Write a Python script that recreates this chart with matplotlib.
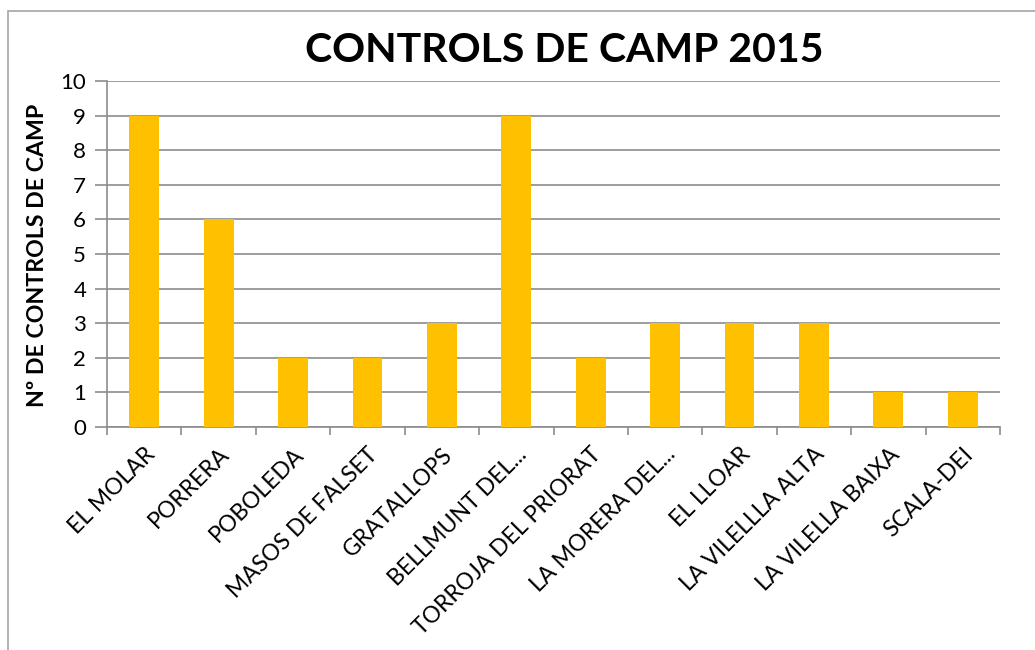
import matplotlib
matplotlib.use('Agg')
import matplotlib.pyplot as plt
from matplotlib.patches import Rectangle
from matplotlib.ticker import FixedLocator, NullFormatter

# data
pobles = ['EL MOLAR', 'PORRERA', 'POBOLEDA', 'MASOS DE FALSET', 'GRATALLOPS',
          'BELLMUNT DEL...', 'TORROJA DEL PRIORAT', 'LA MORERA DEL...', 'EL LLOAR',
          'LA VILELLLA ALTA', 'LA VILELLA BAIXA', 'SCALA-DEI']
controls = [9, 6, 2, 2, 3, 9, 2, 3, 3, 3, 1, 1]
y_ticks = list(range(0, 11))

plt.rcParams['font.family'] = ['Lato', 'DejaVu Sans']
grey = '#8c8c8c'

fig = plt.figure(figsize=(10.35, 6.5), dpi=100)
ax = fig.add_axes([107 / 1035, 1 - 427 / 650, 893 / 1035, 346 / 650])

x = list(range(len(pobles)))
ax.bar(x, controls, width=0.4, color='#FFC000', zorder=3)

ax.set_xlim(-0.5, len(pobles) - 0.5)
ax.set_ylim(0, 10)
ax.set_yticks(y_ticks)
ax.yaxis.grid(True, color=grey, linewidth=1.2, zorder=0)
ax.tick_params(axis='y', length=9, color=grey, width=1.2, labelsize=16, pad=6)

ax.set_xticks(x)
ax.set_xticklabels(pobles, rotation=45, ha='right', rotation_mode='anchor', fontsize=16.5)
ax.tick_params(axis='x', which='major', length=0, pad=12)
ax.xaxis.set_minor_locator(FixedLocator([i - 0.5 for i in range(len(pobles) + 1)]))
ax.xaxis.set_minor_formatter(NullFormatter())
ax.tick_params(axis='x', which='minor', length=6, color=grey, width=1.2)

for s in ['top', 'right']:
    ax.spines[s].set_visible(False)
for s in ['left', 'bottom']:
    ax.spines[s].set_color(grey)
    ax.spines[s].set_linewidth(1.2)

fig.text(564 / 1035, 1 - 50 / 650, 'CONTROLS DE CAMP 2015', fontsize=29.5,
         fontweight='bold', ha='center', va='center')
fig.text(38 / 1035, 1 - 255 / 650, 'Nº DE CONTROLS DE CAMP', fontsize=16.7,
         fontweight='bold', rotation=90, ha='center', va='center')

# chart border
fig.patches.append(Rectangle((8 / 1035, -0.05), 1.1, 1 - 11 / 650 + 0.05,
                             transform=fig.transFigure, fill=False,
                             edgecolor='#a6a6a6', linewidth=1.2))

fig.savefig('out.png', dpi=100)
